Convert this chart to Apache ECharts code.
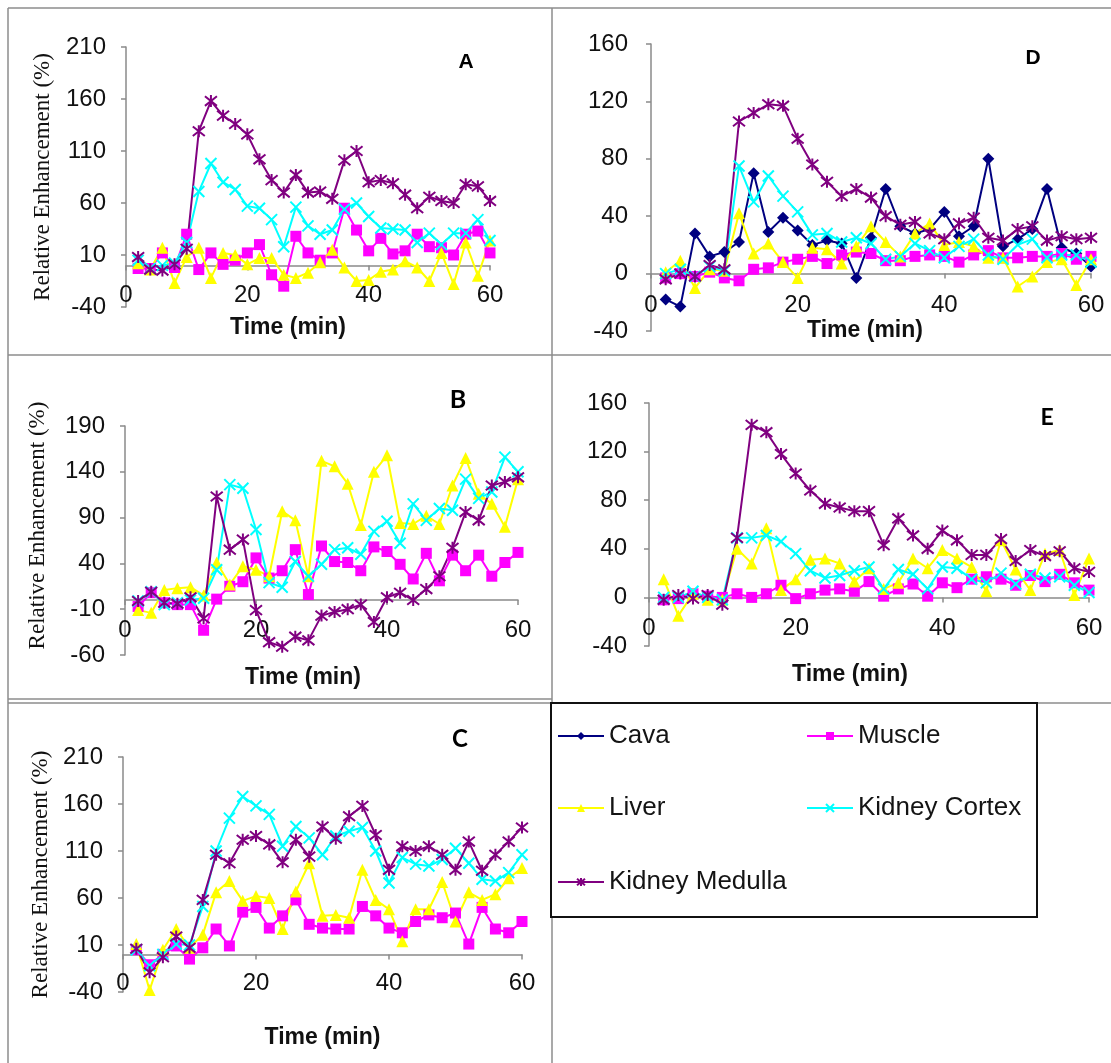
<!DOCTYPE html>
<html>
<head>
<meta charset="utf-8">
<script src="https://cdn.jsdelivr.net/npm/echarts@6/dist/echarts.min.js"></script>
<style>
  html, body { margin: 0; padding: 0; background: #ffffff; }
  #chart { width: 1111px; height: 1063px; }
</style>
</head>
<body>
<div id="chart"></div>
<script>
// Sampling times (min)
const minutes = [2, 4, 6, 8, 10, 12, 14, 16, 18, 20, 22, 24, 26, 28, 30,
                 32, 34, 36, 38, 40, 42, 44, 46, 48, 50, 52, 54, 56, 58, 60];

// Axis tick values
const xTicks = [0, 20, 40, 60];
const yTicksA = [-40, 10, 60, 110, 160, 210];
const yTicksB = [-60, -10, 40, 90, 140, 190];
const yTicksC = [-40, 10, 60, 110, 160, 210];
const yTicksD = [-40, 0, 40, 80, 120, 160];
const yTicksE = [-40, 0, 40, 80, 120, 160];

const seriesNames = ['Cava', 'Muscle', 'Liver', 'Kidney Cortex', 'Kidney Medulla'];

// Relative enhancement (%) — panel A
const muscleA  = [-3, -3, 12, -2, 30, -4, 12, 1, 5, 12, 20, -9, -20, 28, 12, 5, 12, 55, 34, 14, 26, 11, 14, 30, 18, 17, 10, 30, 33, 12];
const liverA   = [2, -4, 17, -17, 8, 17, -12, 12, 10, 1, 7, 7, -9, -12, -7, 3, 15, -2, -15, -14, -6, -4, 4, -2, -15, 12, -18, 22, -10, 24];
const cortexA  = [5, -3, 0, 2, 22, 71, 98, 80, 73, 57, 55, 44, 18, 56, 38, 30, 34, 54, 60, 47, 36, 35, 34, 22, 31, 20, 31, 31, 44, 24];
const medullaA = [8, -4, -5, 1, 16, 129, 158, 144, 136, 126, 102, 82, 70, 87, 70, 71, 64, 101, 110, 80, 82, 79, 68, 55, 66, 62, 60, 78, 76, 62];

// Panel B
const muscleB  = [-7, 8, -3, -5, -5, -33, 1, 15, 20, 46, 24, 32, 55, 6, 59, 42, 41, 32, 58, 53, 39, 23, 51, 21, 49, 32, 49, 26, 41, 52];
const liverB   = [-11, -14, 11, 13, 14, 5, 41, 17, 37, 33, 26, 97, 87, 26, 152, 146, 127, 82, 140, 158, 84, 83, 92, 83, 125, 155, 116, 105, 80, 132];
const cortexB  = [-1, 9, -5, -3, 0, 2, 33, 126, 122, 77, 19, 14, 42, 26, 39, 55, 57, 50, 75, 86, 62, 105, 87, 100, 98, 132, 111, 118, 156, 140];
const medullaB = [-1, 9, -3, -4, 3, -20, 113, 55, 66, -11, -46, -51, -40, -44, -17, -13, -10, -5, -24, 3, 8, 0, 12, 26, 57, 96, 87, 125, 129, 134];

// Panel C
const muscleC  = [5, -11, 0, 9, -5, 7, 27, 9, 45, 50, 28, 41, 58, 32, 28, 27, 27, 51, 41, 28, 23, 35, 42, 39, 44, 11, 50, 27, 23, 35];
const liverC   = [11, -38, 5, 27, 7, 21, 66, 78, 57, 62, 60, 27, 67, 97, 41, 42, 39, 90, 58, 48, 14, 48, 48, 77, 35, 66, 58, 64, 81, 92];
const cortexC  = [5, -12, 0, 11, 10, 51, 110, 145, 168, 158, 149, 115, 136, 124, 106, 126, 131, 135, 110, 76, 103, 96, 94, 101, 113, 97, 80, 78, 87, 106];
const medullaC = [6, -19, -3, 19, 7, 58, 106, 97, 122, 126, 117, 98, 122, 104, 136, 123, 147, 158, 127, 90, 115, 110, 115, 106, 90, 120, 89, 106, 120, 135];

// Panel D
const cavaD    = [-18, -23, 28, 12, 15, 22, 70, 29, 39, 30, 20, 23, 21, -3, 25, 59, 33, 28, 31, 43, 26, 33, 80, 19, 24, 31, 59, 18, 14, 5];
const muscleD  = [-3, 0, -2, 1, -3, -5, 3, 4, 8, 10, 12, 7, 13, 15, 14, 9, 9, 12, 13, 12, 8, 13, 16, 11, 11, 12, 12, 14, 10, 12];
const liverD   = [1, 9, -10, 3, 2, 42, 14, 21, 8, -3, 18, 17, 7, 19, 33, 22, 12, 28, 35, 20, 22, 19, 11, 11, -9, -2, 8, 10, -8, 10];
const cortexD  = [0, 3, -2, 5, 2, 75, 50, 68, 54, 43, 27, 28, 22, 25, 21, 10, 12, 21, 16, 11, 19, 24, 13, 10, 20, 24, 11, 13, 13, 8];
const medullaD = [-4, 0, -2, 6, 3, 106, 112, 118, 117, 94, 76, 64, 54, 59, 53, 40, 34, 36, 28, 24, 35, 39, 25, 23, 31, 33, 23, 26, 24, 25];

// Panel E
const muscleE  = [-2, -1, 3, 1, 0, 3, 0, 3, 10, -1, 3, 6, 7, 5, 13, 1, 7, 11, 1, 12, 8, 15, 17, 15, 10, 18, 13, 19, 12, 6];
const liverE   = [15, -15, 3, -2, -2, 40, 28, 57, 6, 15, 31, 32, 28, 13, 24, 7, 12, 32, 24, 39, 32, 25, 5, 47, 23, 6, 36, 39, 2, 32];
const cortexE  = [0, 0, 5, 0, -2, 49, 49, 51, 46, 36, 22, 16, 18, 22, 25, 7, 23, 19, 7, 25, 24, 15, 12, 20, 11, 19, 16, 17, 10, 4];
const medullaE = [-2, 2, -1, 2, -6, 49, 142, 136, 118, 102, 88, 77, 74, 71, 71, 43, 65, 51, 40, 55, 47, 35, 35, 48, 30, 39, 34, 38, 24, 21];

// Marker / line look per tissue
const looks = {
  'Cava':           { color: '#000080', symbol: 'diamond',  size: 12, stroke: false },
  'Muscle':         { color: '#FF00FF', symbol: 'rect',     size: 11, stroke: false },
  'Liver':          { color: '#FFFF00', symbol: 'triangle', size: 12, stroke: false },
  'Kidney Cortex':  { color: '#00FFFF', symbol: 'path://M0,0L10,10M10,0L0,10', size: 11, stroke: true },
  'Kidney Medulla': { color: '#800080', symbol: 'path://M0,1L10,9M10,1L0,9M5,0L5,10', size: 12, stroke: true }
};

// Panel layout: plot boxes, label offsets (tick labels sit just under the zero line)
const panels = [
  { letter: 'A', letterPos: [466, 62], letterFont: 'Liberation Sans', letterSize: 21,
    box: { left: 126, top: 47, width: 364, height: 260 }, ticks: yTicksA,
    values: { 'Muscle': muscleA, 'Liver': liverA, 'Kidney Cortex': cortexA, 'Kidney Medulla': medullaA },
    yName: true, yNameGap: 72, yNamePad: 0, yLabelMargin: 20,
    xLabelMargin: -24, xNameGap: 9.5, xNamePad: 40 },
  { letter: 'D', letterPos: [1033, 58], letterFont: 'Liberation Sans', letterSize: 21,
    box: { left: 651, top: 44, width: 440, height: 287 }, ticks: yTicksD,
    values: { 'Cava': cavaD, 'Muscle': muscleD, 'Liver': liverD, 'Kidney Cortex': cortexD, 'Kidney Medulla': medullaD },
    yName: false, yLabelMargin: 23,
    xLabelMargin: -38, xNameGap: -11.5, xNamePad: 12 },
  { letter: 'B', letterPos: [458, 400], letterFont: 'Lato', letterSize: 25,
    box: { left: 125, top: 426, width: 393, height: 229 }, ticks: yTicksB,
    values: { 'Muscle': muscleB, 'Liver': liverB, 'Kidney Cortex': cortexB, 'Kidney Medulla': medullaB },
    yName: true, yNameGap: 76, yNamePad: 30, yLabelMargin: 20,
    xLabelMargin: -37, xNameGap: 11.5, xNamePad: 37 },
  { letter: 'E', letterPos: [1047, 418], letterFont: 'Lato', letterSize: 23,
    box: { left: 649, top: 403, width: 440, height: 243 }, ticks: yTicksE,
    values: { 'Muscle': muscleE, 'Liver': liverE, 'Kidney Cortex': cortexE, 'Kidney Medulla': medullaE },
    yName: false, yLabelMargin: 22,
    xLabelMargin: -30, xNameGap: 17.5, xNamePad: 38 },
  { letter: 'C', letterPos: [460, 739], letterFont: 'Lato', letterSize: 24,
    box: { left: 123, top: 757, width: 399, height: 235 }, ticks: yTicksC,
    values: { 'Muscle': muscleC, 'Liver': liverC, 'Kidney Cortex': cortexC, 'Kidney Medulla': medullaC },
    yName: true, yNameGap: 71, yNamePad: 0, yLabelMargin: 20,
    xLabelMargin: -21, xNameGap: 34.5, xNamePad: 0 }
];

const axisGray = '#8a8a8a';
const tickFont = { fontSize: 24, fontFamily: 'Liberation Sans', color: '#111111' };

const grids = panels.map(p => Object.assign({ containLabel: false }, p.box));

const xAxes = panels.map((p, i) => ({
  type: 'value', gridIndex: i,
  min: xTicks[0], max: xTicks[xTicks.length - 1], interval: 20,
  axisLine: { onZero: true, lineStyle: { color: axisGray, width: 1.5 } },
  axisTick: { show: true, length: 5, lineStyle: { color: axisGray, width: 1.5 } },
  axisLabel: Object.assign({ margin: p.xLabelMargin, hideOverlap: false }, tickFont),
  splitLine: { show: false },
  name: 'Time (min)', nameLocation: 'middle', nameGap: p.xNameGap, nameMoveOverlap: false,
  nameTextStyle: { fontSize: 23, fontWeight: 'bold', fontFamily: 'Liberation Sans', color: '#111',
                   padding: [0, p.xNamePad, 0, 0] }
}));

const yAxes = panels.map((p, i) => ({
  type: 'value', gridIndex: i,
  min: p.ticks[0], max: p.ticks[p.ticks.length - 1],
  axisLine: { show: true, onZero: false, lineStyle: { color: axisGray, width: 1.5 } },
  axisTick: { show: true, length: 5, customValues: p.ticks, lineStyle: { color: axisGray, width: 1.5 } },
  axisLabel: Object.assign({ margin: p.yLabelMargin, customValues: p.ticks }, tickFont),
  splitLine: { show: false },
  name: p.yName ? 'Relative Enhancement (%)' : '',
  nameLocation: 'middle', nameRotate: 90, nameGap: p.yNameGap || 0, nameMoveOverlap: false,
  nameTextStyle: { fontSize: 23, fontFamily: 'Liberation Serif', color: '#111',
                   padding: [0, 0, 0, p.yNamePad || 0] }
}));

const series = [];
panels.forEach((p, i) => {
  seriesNames.forEach(name => {
    const vals = p.values[name];
    if (!vals) return;
    const look = looks[name];
    series.push({
      type: 'line', name: name,
      xAxisIndex: i, yAxisIndex: i,
      data: minutes.map((t, k) => [t, vals[k]]),
      symbol: look.symbol, symbolSize: look.size,
      showSymbol: true, showAllSymbol: true, clip: false,
      lineStyle: { color: look.color, width: 2 },
      itemStyle: look.stroke
        ? { color: look.color, borderColor: look.color, borderWidth: 2 }
        : { color: look.color, borderWidth: 0 },
      emphasis: { disabled: true },
      animation: false
    });
  });
});

// Legend entries, two columns
const legendSpots = [
  { name: 'Cava',           left: 557, top: 723 },
  { name: 'Muscle',         left: 806, top: 723 },
  { name: 'Liver',          left: 557, top: 795 },
  { name: 'Kidney Cortex',  left: 806, top: 795 },
  { name: 'Kidney Medulla', left: 557, top: 869 }
];
const legends = legendSpots.map(s => ({
  data: [s.name], left: s.left, top: s.top, orient: 'horizontal',
  itemWidth: 46, itemHeight: 10, itemGap: 0, padding: 0, selectedMode: false,
  textStyle: { fontSize: 26, fontFamily: 'Liberation Sans', color: '#141414' }
}));

// Table rules and legend frame
const rule = (x1, y1, x2, y2) => ({
  type: 'line', silent: true, z: 0,
  shape: { x1: x1, y1: y1, x2: x2, y2: y2 },
  style: { stroke: '#8c8c8c', lineWidth: 1.5 }
});
const graphics = [
  rule(8, 8, 1111, 8),
  rule(8, 8, 8, 1063),
  rule(552, 8, 552, 703),
  rule(8, 355, 1111, 355),
  rule(8, 699, 552, 699),
  rule(8, 703, 1111, 703),
  rule(552, 917, 552, 1063),
  { type: 'rect', silent: true, z: 1,
    shape: { x: 551, y: 703, width: 486, height: 214 },
    style: { fill: 'transparent', stroke: '#111111', lineWidth: 2 } }
];
panels.forEach(p => {
  graphics.push({
    type: 'text', silent: true, z: 5,
    x: p.letterPos[0], y: p.letterPos[1],
    style: { text: p.letter, fontSize: p.letterSize, fontWeight: 'bold', fontFamily: p.letterFont,
             fill: '#000', align: 'center', verticalAlign: 'middle' }
  });
});

const chart = echarts.init(document.getElementById('chart'), null, { renderer: 'canvas' });
chart.setOption({
  animation: false,
  backgroundColor: '#ffffff',
  grid: grids,
  xAxis: xAxes,
  yAxis: yAxes,
  legend: legends,
  series: series,
  graphic: graphics
});
</script>
</body>
</html>
